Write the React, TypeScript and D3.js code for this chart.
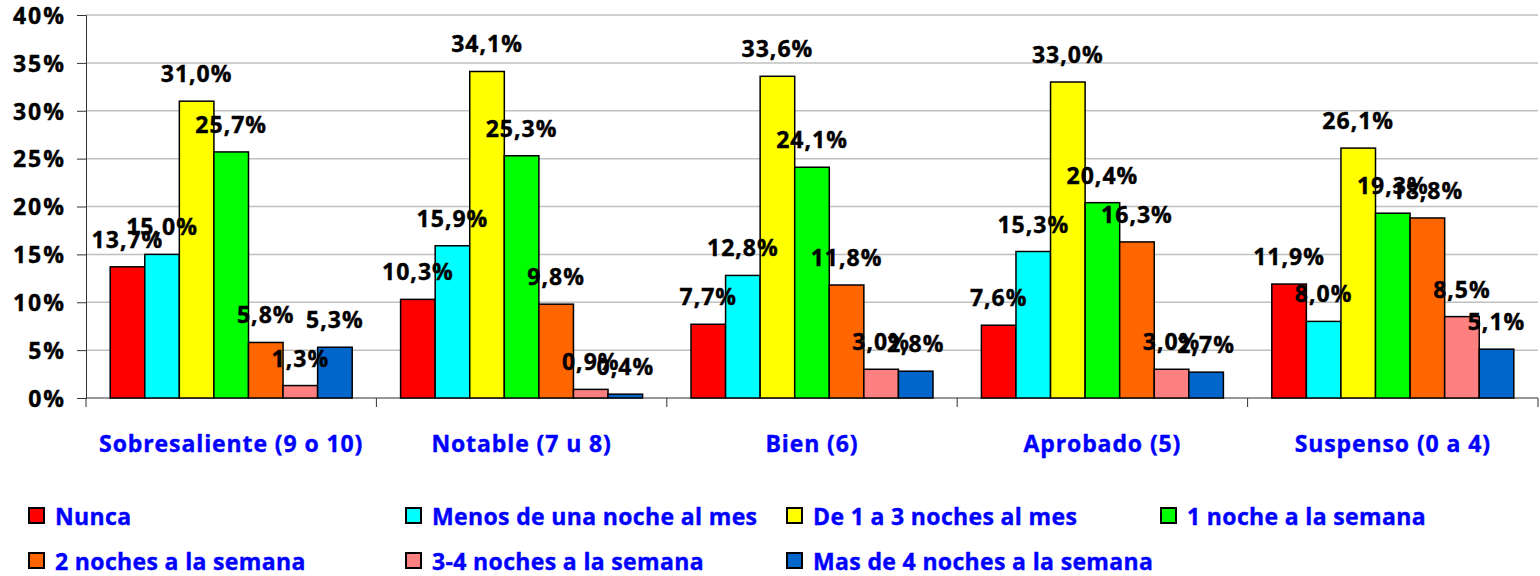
import { useEffect, useRef } from "react"
import * as d3 from "d3"

const categories = [
  "Sobresaliente (9 o 10)",
  "Notable (7 u 8)",
  "Bien (6)",
  "Aprobado (5)",
  "Suspenso (0 a 4)",
]

const seriesNames = [
  "Nunca",
  "Menos de una noche al mes",
  "De 1 a 3 noches al mes",
  "1 noche a la semana",
  "2 noches a la semana",
  "3-4 noches a la semana",
  "Mas de 4 noches a la semana",
]

const seriesColors = ["#ff0000", "#00ffff", "#ffff00", "#00ff00", "#ff6600", "#ff8080", "#0066cc"]

// one array per series, values per category (%)
const nunca = [13.7, 10.3, 7.7, 7.6, 11.9]
const menosUna = [15.0, 15.9, 12.8, 15.3, 8.0]
const de1a3 = [31.0, 34.1, 33.6, 33.0, 26.1]
const unaSemana = [25.7, 25.3, 24.1, 20.4, 19.3]
const dosSemana = [5.8, 9.8, 11.8, 16.3, 18.8]
const tresCuatro = [1.3, 0.9, 3.0, 3.0, 8.5]
const masDe4 = [5.3, 0.4, 2.8, 2.7, 5.1]

const seriesValues = [nunca, menosUna, de1a3, unaSemana, dosSemana, tresCuatro, masDe4]

const yTicks = [0, 5, 10, 15, 20, 25, 30, 35, 40]

const FONT = "'Open Sans', Lato, sans-serif"
const BLUE = "#0000ff"

export default function App() {
  const svgRef = useRef<SVGSVGElement>(null)

  useEffect(() => {
    if (!svgRef.current) return
    const svg = d3.select(svgRef.current)
    svg.selectAll("*").remove()

    const left = 86
    const right = 1538
    const top = 15
    const bottom = 398

    const x0 = d3.scaleBand<string>().domain(categories).range([left, right]).padding(0)
    const x1 = d3
      .scaleBand<string>()
      .domain(seriesNames)
      .range([0, x0.bandwidth()])
      .paddingInner(0)
      .paddingOuter(0.7)
    const y = d3.scaleLinear().domain([0, 40]).range([bottom, top])

    // gridlines
    svg
      .append("g")
      .selectAll("line")
      .data(yTicks.filter((t) => t > 0))
      .enter()
      .append("line")
      .attr("x1", left)
      .attr("x2", right)
      .attr("y1", (d) => y(d))
      .attr("y2", (d) => y(d))
      .style("stroke", "#c0c0c0")
      .style("stroke-width", 1.5)

    // y axis
    const yAxis = svg
      .append("g")
      .attr("transform", `translate(${left},0)`)
      .call(
        d3
          .axisLeft(y)
          .tickValues(yTicks)
          .tickSize(9)
          .tickPadding(11)
          .tickFormat((d) => `${d}%`),
      )
    yAxis.select(".domain").style("stroke", "#333")
    yAxis.selectAll(".tick line").style("stroke", "#333")
    yAxis
      .selectAll(".tick text")
      .style("font-family", FONT)
      .style("font-size", "23px")
      .style("font-weight", "bold")
      .style("letter-spacing", "2px")
      .style("fill", "#000")
      .style("stroke", "#000")
      .style("stroke-width", 0.4)
      .attr("dy", "0.36em")

    // x axis (ticks between categories)
    const xg = svg.append("g")
    xg.append("line")
      .attr("x1", left)
      .attr("x2", right)
      .attr("y1", bottom)
      .attr("y2", bottom)
      .style("stroke", "#333")
      .style("stroke-width", 1.2)
    const bounds = categories.map((c) => x0(c)!).concat([right])
    xg.selectAll(".tk")
      .data(bounds)
      .enter()
      .append("line")
      .attr("x1", (d) => d)
      .attr("x2", (d) => d)
      .attr("y1", bottom)
      .attr("y2", bottom + 9)
      .style("stroke", "#333")
    xg.selectAll(".cat")
      .data(categories)
      .enter()
      .append("text")
      .attr("x", (d) => x0(d)! + x0.bandwidth() / 2)
      .attr("y", 452)
      .attr("text-anchor", "middle")
      .style("font-family", FONT)
      .style("font-size", "23px")
      .style("font-weight", "bold")
      .style("letter-spacing", "0.9px")
      .style("fill", BLUE)
      .style("stroke", BLUE)
      .style("stroke-width", 0.4)
      .text((d) => d)

    // bars
    const groups = svg
      .append("g")
      .selectAll("g")
      .data(categories)
      .enter()
      .append("g")
      .attr("transform", (d) => `translate(${x0(d)},0)`)

    const cells = groups.selectAll("rect").data((c, ci) =>
      seriesNames.map((s, si) => ({ s, si, v: seriesValues[si][ci] })),
    )
    cells
      .enter()
      .append("rect")
      .attr("x", (d) => x1(d.s)!)
      .attr("y", (d) => y(d.v))
      .attr("width", x1.bandwidth())
      .attr("height", (d) => bottom - y(d.v))
      .style("fill", (d) => seriesColors[d.si])
      .style("stroke", "#000")
      .style("stroke-width", 1.5)

    // data labels
    const labels = svg.append("g")
    categories.forEach((c, ci) => {
      seriesNames.forEach((s, si) => {
        const v = seriesValues[si][ci]
        labels
          .append("text")
          .attr("x", x0(c)! + x1(s)! + x1.bandwidth() / 2)
          .attr("y", y(v) - 19)
          .attr("text-anchor", "middle")
          .style("font-family", FONT)
          .style("font-size", "23px")
          .style("font-weight", "bold")
          .style("letter-spacing", "1px")
          .style("fill", "#000")
          .style("stroke", "#000")
          .style("stroke-width", 0.4)
          .text(v.toFixed(1).replace(".", ",") + "%")
      })
    })

    // legend
    const colX = [29, 406, 787, 1161]
    const rowY = [508, 553]
    const leg = svg
      .append("g")
      .selectAll("g")
      .data(seriesNames)
      .enter()
      .append("g")
      .attr("transform", (d, i) => `translate(${colX[i % 4]},${rowY[Math.floor(i / 4)]})`)
    leg
      .append("rect")
      .attr("width", 15)
      .attr("height", 15)
      .style("fill", (d, i) => seriesColors[i])
      .style("stroke", "#000")
      .style("stroke-width", 2)
    leg
      .append("text")
      .attr("x", 26)
      .attr("y", 17)
      .style("font-family", FONT)
      .style("font-size", "23px")
      .style("font-weight", "bold")
      .style("letter-spacing", "0.35px")
      .style("fill", BLUE)
      .style("stroke", BLUE)
      .style("stroke-width", 0.4)
      .text((d) => d)
  }, [])

  return (
    <svg
      ref={svgRef}
      width={1540}
      height={576}
      style={{ position: "absolute", left: 0, top: 0, background: "#fff", display: "block" }}
    />
  )
}
